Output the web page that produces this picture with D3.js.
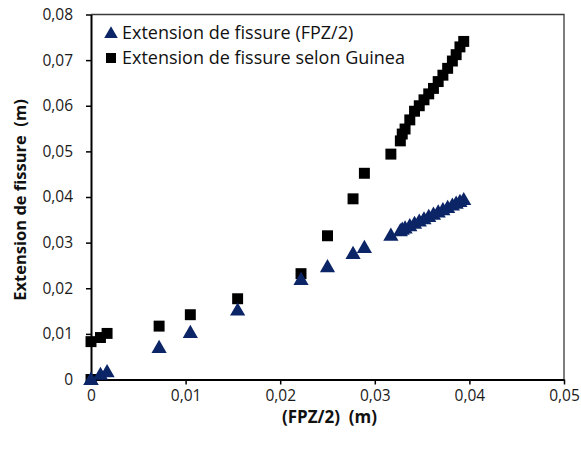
<!DOCTYPE html>
<html>
<head>
<meta charset="utf-8">
<script src="https://cdn.jsdelivr.net/npm/d3@7"></script>
<style>
  html, body { margin: 0; padding: 0; background: #fff; }
  svg { display: block; font-family: "Open Sans", "Noto Sans", sans-serif; }
</style>
</head>
<body>
<svg id="chart" width="581" height="450"></svg>
<script>
// FPZ/2 (m), shared abscissa of both series
const fpzHalf = [0, 0, 0.0010, 0.0017, 0.0072, 0.0105, 0.0155, 0.0222, 0.0250, 0.0277, 0.0289,
  0.0317, 0.0327, 0.0329, 0.0332, 0.0337, 0.0342, 0.0347, 0.0352, 0.0357, 0.0362,
  0.0367, 0.0372, 0.0377, 0.0382, 0.0386, 0.0390, 0.0394];
// Crack extension taken as FPZ/2 (m)
const extFpz = [0, 0, 0.0011, 0.0017, 0.0070, 0.0103, 0.0152, 0.0219, 0.0247, 0.0276, 0.0289,
  0.0316, 0.0326, 0.0329, 0.0332, 0.0337, 0.0342, 0.0347, 0.0352, 0.0357, 0.0362,
  0.0367, 0.0372, 0.0377, 0.0382, 0.0386, 0.0390, 0.0394];
// Crack extension according to Guinea (m)
const extGuinea = [0, 0.0083, 0.0092, 0.0101, 0.0117, 0.0142, 0.0177, 0.0232, 0.0315, 0.0396, 0.0452,
  0.0494, 0.0523, 0.0538, 0.0549, 0.0569, 0.0588, 0.0600, 0.0613, 0.0626, 0.0638,
  0.0653, 0.0667, 0.0682, 0.0698, 0.0712, 0.0729, 0.0741];

const xTicks = [0, 0.01, 0.02, 0.03, 0.04, 0.05];
const yTicks = [0, 0.01, 0.02, 0.03, 0.04, 0.05, 0.06, 0.07, 0.08];
const seriesNames = ["Extension de fissure (FPZ/2)", "Extension de fissure selon Guinea"];
const xTitle = "(FPZ/2)\u00a0\u00a0(m)";
const yTitle = "Extension de fissure\u00a0\u00a0(m)";

const navy = "#0b2566";
const black = "#000000";

const svg = d3.select("#chart");
const plot = { left: 91, right: 564, top: 14.5, bottom: 379.5 };

const x = d3.scaleLinear().domain([0, 0.05]).range([plot.left, plot.right]);
const y = d3.scaleLinear().domain([0, 0.08]).range([plot.bottom, plot.top]);

const frFmt = d3.formatLocale({ decimal: ",", thousands: " ", grouping: [3], currency: ["", " €"] }).format(".2f");
const tickFmt = v => (v === 0 ? "0" : frFmt(v));

// top and right frame
svg.append("path")
  .attr("d", `M${plot.left},${plot.top}H${plot.right}V${plot.bottom}`)
  .attr("fill", "none").attr("stroke", "#3a3a3a").attr("stroke-width", 1.3);

// axes
const xAxis = svg.append("g")
  .attr("transform", `translate(0,${plot.bottom})`)
  .call(d3.axisBottom(x).tickValues(xTicks).tickFormat(tickFmt).tickSizeOuter(0).tickSizeInner(5).tickPadding(5));
const yAxis = svg.append("g")
  .attr("transform", `translate(${plot.left},0)`)
  .call(d3.axisLeft(y).tickValues(yTicks).tickFormat(tickFmt).tickSizeOuter(0).tickSizeInner(5).tickPadding(13));

[xAxis, yAxis].forEach(g => {
  g.select(".domain").attr("stroke", black).attr("stroke-width", 2);
  g.selectAll(".tick line").attr("stroke", black).attr("stroke-width", 1.5);
  g.selectAll(".tick text").attr("fill", "#1a1a1a").style("font-size", "15.5px")
    .style("font-family", "'Open Sans', sans-serif");
});

// marker symbols
const tri = d3.symbol().type(d3.symbolTriangle).size(100);
const sq = d3.symbol().type(d3.symbolSquare).size(120);

const pts = fpzHalf.map((v, i) => ({ x: v, a: extFpz[i], b: extGuinea[i] }));

svg.append("g").selectAll("path.sq").data(pts).join("path")
  .attr("class", "sq")
  .attr("d", sq)
  .attr("transform", d => `translate(${x(d.x)},${y(d.b)})`)
  .attr("fill", black);

svg.append("g").selectAll("path.tri").data(pts).join("path")
  .attr("class", "tri")
  .attr("d", tri)
  .attr("transform", d => `translate(${x(d.x)},${y(d.a) + 1})`)
  .attr("fill", navy);

// legend
const legend = svg.append("g");
const items = [
  { name: seriesNames[0], path: d3.symbol().type(d3.symbolTriangle).size(80)(), color: navy, dy: 1 },
  { name: seriesNames[1], path: d3.symbol().type(d3.symbolSquare).size(100)(), color: black, dy: 0 }
];
items.forEach((it, i) => {
  const cy = 33 + i * 25;
  legend.append("path").attr("d", it.path)
    .attr("transform", `translate(111,${cy + it.dy})`).attr("fill", it.color);
  legend.append("text").attr("x", 122).attr("y", cy).attr("dy", "0.35em")
    .style("font-size", "18px").attr("fill", "#111").text(it.name);
});

// axis titles
svg.append("text").attr("x", (plot.left + plot.right) / 2 + 2).attr("y", 417).attr("dy", "0.35em")
  .attr("text-anchor", "middle").style("font-size", "17px").style("font-weight", "bold").attr("fill", "#111")
  .text(xTitle);
svg.append("text").attr("transform", `translate(20,${(plot.top + plot.bottom) / 2 + 3}) rotate(-90)`)
  .attr("dy", "0.35em").attr("text-anchor", "middle").style("font-size", "16.5px").style("font-weight", "bold")
  .attr("fill", "#111").text(yTitle);
</script>
</body>
</html>
